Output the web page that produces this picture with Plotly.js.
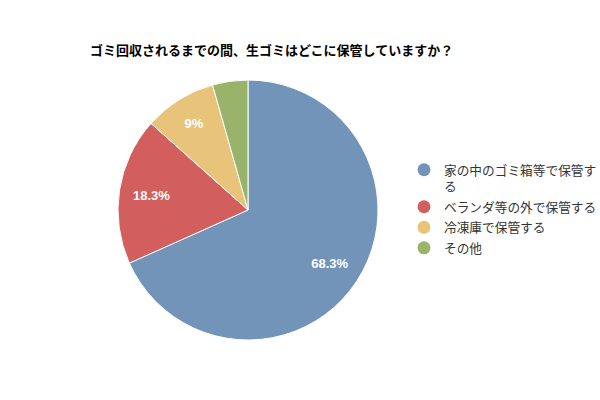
<!DOCTYPE html>
<html>
<head>
<meta charset="utf-8">
<script src="https://cdn.plot.ly/plotly-3.0.1.min.js"></script>
<style>html,body{margin:0;padding:0;background:#fff;}#chart{width:600px;height:400px;}</style>
</head>
<body>
<div id="chart"></div>
<script>
const categories = ["家の中のゴミ箱等で保管する", "ベランダ等の外で保管する", "冷凍庫で保管する", "その他"];
const legendLabels = ["家の中のゴミ箱等で保管す<br>る", "ベランダ等の外で保管する", "冷凍庫で保管する", "その他"];
const values = [68.3, 18.3, 9, 4.4];
const sliceLabels = ["68.3%", "18.3%", "9%", ""];
const colors = ["#7394b9", "#d35e5e", "#e8c47b", "#9ab36a"];
const titleText = "ゴミ回収されるまでの間、生ゴミはどこに保管していますか？";

const font = "'Noto Sans CJK JP', 'Noto Sans', sans-serif";
const numFont = "'Liberation Sans', Arial, sans-serif";
const pieDomain = {x: [118/600, 378/600], y: [60/400, 320/400]};

const traces = [{
  type: "pie",
  labels: categories,
  values: values,
  textinfo: "none",
  sort: false,
  direction: "clockwise",
  rotation: 0,
  marker: {colors: colors, line: {color: "#ffffff", width: 1}},
  showlegend: false,
  hoverinfo: "label+percent",
  domain: pieDomain
}, {
  type: "pie",
  labels: categories,
  values: values,
  text: sliceLabels,
  textinfo: "text",
  textposition: "inside",
  insidetextorientation: "horizontal",
  insidetextfont: {color: "#ffffff", size: 13, family: numFont, weight: "bold"},
  hole: 0.5,
  sort: false,
  direction: "clockwise",
  rotation: 0,
  marker: {colors: colors.map(() => "rgba(0,0,0,0)"), line: {width: 0}},
  showlegend: false,
  hoverinfo: "skip",
  domain: pieDomain
}];

legendLabels.forEach((name, i) => {
  traces.push({
    type: "scatter",
    mode: "markers",
    x: [null], y: [null],
    name: name,
    legendgroup: "g" + i,
    marker: {color: colors[i], size: 13, symbol: "circle"},
    showlegend: true,
    hoverinfo: "skip"
  });
});

const layout = {
  width: 600, height: 400,
  margin: {l: 0, r: 0, t: 0, b: 0, autoexpand: false},
  paper_bgcolor: "#ffffff",
  plot_bgcolor: "#ffffff",
  font: {family: font, color: "#333333"},
  title: {
    text: titleText,
    font: {size: 13, color: "#000000", family: font, weight: "bold"},
    x: 90/600, xanchor: "left", xref: "container",
    y: 1 - 50/400, yanchor: "middle", yref: "container"
  },
  xaxis: {visible: false},
  yaxis: {visible: false},
  showlegend: true,
  legend: {
    x: 404/600, xanchor: "left",
    y: 1 - 155/400, yanchor: "top",
    font: {size: 12.7, color: "#333333", family: font},
    valign: "top",
    tracegroupgap: 1,
    bgcolor: "rgba(0,0,0,0)"
  }
};

Plotly.newPlot("chart", traces, layout, {displayModeBar: false, staticPlot: true});
</script>
</body>
</html>
